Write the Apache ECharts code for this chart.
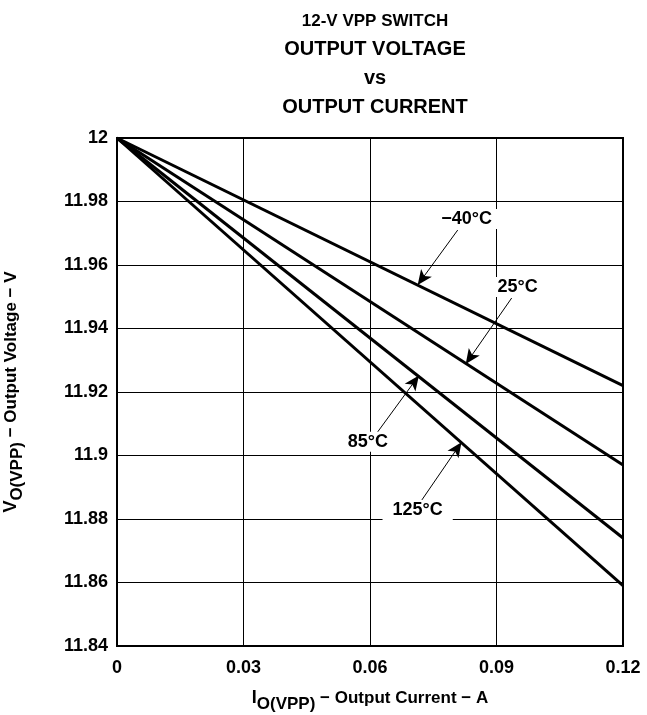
<!DOCTYPE html>
<html>
<head>
<meta charset="utf-8">
<script src="https://cdn.jsdelivr.net/npm/echarts@6/dist/echarts.min.js"></script>
<style>html,body{margin:0;padding:0;background:#fff}#c{width:647px;height:715px}</style>
</head>
<body>
<div id="c"></div>
<script>
// ---- data ----
const currents = [0, 0.12];               // A
const vM40 = [12, 11.922];                // -40 °C
const v25 = [12, 11.897];                 // 25 °C
const v85 = [12, 11.874];                 // 85 °C
const v125 = [12, 11.859];                // 125 °C
const seriesNames = ['−40°C', '25°C', '85°C', '125°C'];
const xTicks = [0, 0.03, 0.06, 0.09, 0.12];
const yTicks = [11.84, 11.86, 11.88, 11.9, 11.92, 11.94, 11.96, 11.98, 12];
// annotation positions (data units)
const labelPos = [[0.0829, 11.9745], [0.0950, 11.9531], [0.0595, 11.9043], [0.0713, 11.8828]];
const arrowTail = [[0.0808, 11.971], [0.0936, 11.9496], [0.0618, 11.9074], [0.0723, 11.886]];
const arrowTip = [[0.0713, 11.9537], [0.0827, 11.9288], [0.0716, 11.9252], [0.0817, 11.9042]];

const FONT = '"Liberation Sans", Arial, sans-serif';
const chart = echarts.init(document.getElementById('c'), null, {renderer: 'canvas'});
const allV = [vM40, v25, v85, v125];

const series = allV.map((vals, i) => ({
  type: 'line',
  name: seriesNames[i],
  data: currents.map((c, j) => [c, vals[j]]),
  showSymbol: false,
  symbol: 'none',
  lineStyle: {color: '#000', width: 3},
  silent: true,
  animation: false,
  z: 3,
  markLine: {
    silent: true,
    animation: false,
    symbol: ['none', 'arrow'],
    symbolSize: [10, 15],
    label: {show: false},
    lineStyle: {color: '#000', width: 1, type: 'solid', opacity: 1},
    itemStyle: {color: '#000', opacity: 1},
    data: [[{coord: arrowTail[i]}, {coord: arrowTip[i]}]]
  }
}));

series.push({
  type: 'scatter',
  symbolSize: 1,
  itemStyle: {color: '#fff', opacity: 1},
  silent: true,
  animation: false,
  z: 5,
  data: labelPos.map((p, i) => ({value: p, name: seriesNames[i]})),
  label: {
    show: true,
    position: 'inside',
    formatter: p => p.name,
    color: '#000',
    opacity: 1,
    textBorderWidth: 0,
    fontFamily: FONT,
    fontWeight: 'bold',
    fontSize: 18,
    backgroundColor: '#fff',
    padding: [1, 10]
  }
});

const axisNameRich = {
  i: {fontFamily: FONT, fontWeight: 'bold', fontSize: 18, color: '#000', lineHeight: 22, verticalAlign: 'middle'},
  s: {fontFamily: FONT, fontWeight: 'bold', fontSize: 17, color: '#000', lineHeight: 22, padding: [12, 0, 0, 0], verticalAlign: 'middle'},
  n: {fontFamily: FONT, fontWeight: 'bold', fontSize: 17, color: '#000', lineHeight: 22, verticalAlign: 'middle'}
};

chart.setOption({
  animation: false,
  backgroundColor: '#fff',
  title: {
    left: 370,
    top: 2,
    textAlign: 'center',
    text: '{a|12-V VPP SWITCH}\n{b|OUTPUT VOLTAGE}\n{b|vs}\n{b|OUTPUT CURRENT}',
    textStyle: {
      fontFamily: FONT,
      rich: {
        a: {fontFamily: FONT, fontWeight: 'bold', fontSize: 17, lineHeight: 28, color: '#000', align: 'center'},
        b: {fontFamily: FONT, fontWeight: 'bold', fontSize: 20, lineHeight: 29, color: '#000', align: 'center'}
      }
    }
  },
  grid: {left: 117, right: 24, top: 138, bottom: 69, outerBoundsMode: 'none', containLabel: false,
         show: true, borderColor: '#000', borderWidth: 2, backgroundColor: 'transparent'},
  xAxis: {
    type: 'value',
    min: xTicks[0], max: xTicks[xTicks.length - 1], interval: 0.03,
    axisLine: {show: false},
    axisTick: {show: false},
    splitLine: {show: true, lineStyle: {color: '#000', width: 1}},
    axisLabel: {
      color: '#000', fontFamily: FONT, fontWeight: 'bold', fontSize: 18, margin: 13,
      formatter: v => String(+v.toFixed(2))
    },
    name: '{i|I}{s|O(VPP)}{n| − Output Current − A}',
    nameLocation: 'middle',
    nameGap: 41,
    nameTextStyle: {rich: axisNameRich}
  },
  yAxis: {
    type: 'value',
    min: yTicks[0], max: yTicks[yTicks.length - 1], interval: 0.02,
    axisLine: {show: false},
    axisTick: {show: false},
    splitLine: {show: true, lineStyle: {color: '#000', width: 1}},
    axisLabel: {
      color: '#000', fontFamily: FONT, fontWeight: 'bold', fontSize: 18, margin: 9,
      formatter: v => String(+v.toFixed(2))
    },
    name: '{i|V}{s|O(VPP)}{n| − Output Voltage − V}',
    nameLocation: 'middle',
    nameRotate: 90,
    nameGap: 95,
    nameTextStyle: {rich: axisNameRich}
  },
  series: series
});
</script>
</body>
</html>
